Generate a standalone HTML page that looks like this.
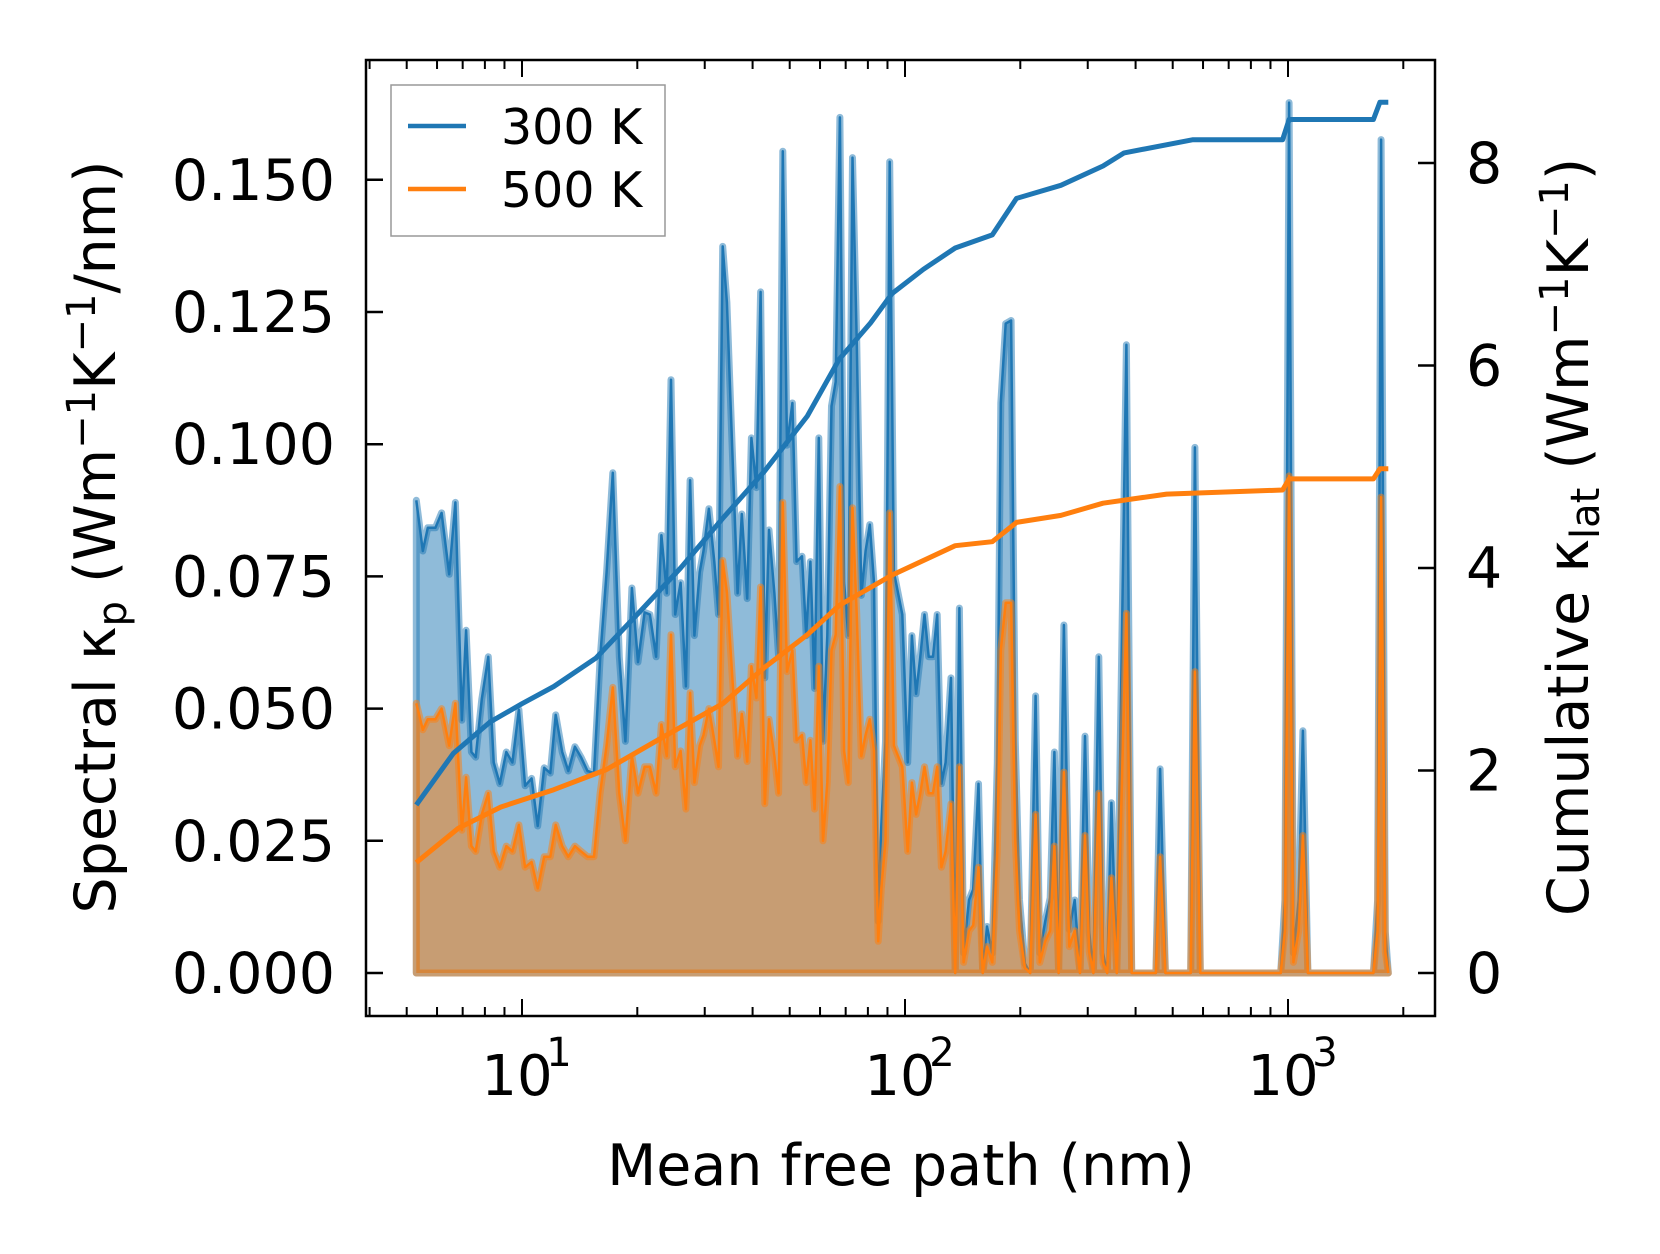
<!DOCTYPE html>
<html><head><meta charset="utf-8"><style>
html,body{margin:0;padding:0;background:#fff}
svg{display:block;font-family:"DejaVu Sans","Liberation Sans",sans-serif}
</style></head><body>
<svg id="chart" width="1660" height="1254" viewBox="0 0 1660 1254" xmlns="http://www.w3.org/2000/svg">
<rect width="1660" height="1254" fill="#fff"/>
<defs><clipPath id="plotclip"><rect x="366" y="60" width="1069" height="956"/></clipPath></defs>
<g id="series" clip-path="url(#plotclip)"></g>
<g id="axes"></g>
<text x="901" y="1185" font-size="57" text-anchor="middle">Mean free path (nm)</text>
<text transform="translate(115,537) rotate(-90)" font-size="57" text-anchor="middle">Spectral κ<tspan font-size="40" dy="11">p</tspan><tspan dy="-11"> (Wm</tspan><tspan font-size="40" dy="-20">−1</tspan><tspan dy="20">K</tspan><tspan font-size="40" dy="-20">−1</tspan><tspan dy="20">/nm)</tspan></text>
<text transform="translate(1588,537) rotate(-90)" font-size="57" text-anchor="middle">Cumulative κ<tspan font-size="40" dy="11">lat</tspan><tspan dy="-11"> (Wm</tspan><tspan font-size="40" dy="-20">−1</tspan><tspan dy="20">K</tspan><tspan font-size="40" dy="-20">−1</tspan><tspan dy="20">)</tspan></text>
<g>
<rect x="391" y="85" width="274" height="151" fill="#fff" fill-opacity="0.8" stroke="#999" stroke-width="1.5"/>
<g><line x1="408" y1="126" x2="466" y2="126" stroke="#1f77b4" stroke-width="4.5"/><text x="501" y="144" font-size="49">300 K</text></g>
<g><line x1="408" y1="189" x2="466" y2="189" stroke="#ff7f0e" stroke-width="4.5"/><text x="501" y="207" font-size="49">500 K</text></g>
</g>
</svg>
<script>
const logMfp=[0.724,0.741,0.754,0.774,0.790,0.810,0.826,0.843,0.854,0.868,0.879,0.895,0.912,0.926,0.942,0.959,0.975,0.992,1.008,1.025,1.041,1.058,1.074,1.088,1.105,1.121,1.138,1.154,1.171,1.188,1.204,1.221,1.237,1.254,1.270,1.287,1.303,1.320,1.334,1.350,1.364,1.378,1.389,1.400,1.414,1.428,1.439,1.450,1.464,1.474,1.488,1.502,1.513,1.524,1.535,1.549,1.563,1.574,1.588,1.599,1.612,1.623,1.634,1.645,1.659,1.670,1.681,1.692,1.706,1.717,1.731,1.742,1.753,1.764,1.775,1.786,1.797,1.808,1.819,1.830,1.841,1.852,1.863,1.874,1.886,1.897,1.908,1.919,1.930,1.938,1.949,1.960,1.971,1.982,1.993,2.007,2.018,2.029,2.040,2.051,2.062,2.073,2.084,2.095,2.106,2.120,2.131,2.142,2.153,2.167,2.178,2.192,2.203,2.214,2.228,2.241,2.250,2.263,2.277,2.288,2.299,2.313,2.327,2.341,2.352,2.366,2.379,2.390,2.401,2.415,2.429,2.443,2.457,2.470,2.481,2.492,2.506,2.517,2.528,2.539,2.553,2.578,2.592,2.655,2.666,2.680,2.746,2.757,2.771,2.981,2.992,3.003,3.014,3.028,3.039,3.052,3.223,3.234,3.243,3.254,3.262];
const spec300=[.0894,.0798,.0842,.0842,.0870,.0754,.0890,.0478,.0648,.0418,.0408,.0518,.0598,.0398,.0358,.0418,.0398,.0498,.0354,.0368,.0278,.0388,.0378,.0488,.0418,.0382,.0428,.0408,.0382,.0378,.0594,.0758,.0946,.0598,.0438,.0728,.0588,.0682,.0678,.0598,.0828,.0718,.1122,.0678,.0738,.0542,.0932,.0638,.0758,.0798,.0878,.0778,.0678,.1374,.1268,.0988,.0718,.0868,.0708,.1012,.0918,.1288,.0558,.0838,.0718,.0598,.1554,.0998,.1078,.0778,.0788,.0638,.0778,.0538,.1012,.0438,.0638,.1072,.1118,.1618,.0738,.0638,.1542,.1198,.0714,.0798,.0848,.0738,.0098,.0278,.0438,.1534,.0758,.0718,.0678,.0398,.0638,.0528,.0598,.0678,.0598,.0598,.0678,.0358,.0398,.0558,0,.0690,.0038,.0138,.0158,.0358,0,.0088,.0038,.0398,.1078,.1228,.1234,.0438,.0138,.0018,0,.0524,.0038,.0098,.0142,.0418,0,.0658,.0082,.0138,0,.0448,.0078,0,.0598,.0038,0,.0322,0,.1188,0,0,.0386,0,0,.0994,0,0,.0138,.1646,.0038,.0138,.0458,0,0,.0138,.1576,.0078,0];
const spec500=[.051,.046,.048,.048,.050,.043,.051,.027,.037,.024,.023,.030,.034,.023,.020,.024,.023,.028,.020,.021,.016,.022,.022,.028,.024,.022,.024,.023,.022,.022,.034,.043,.054,.034,.025,.041,.034,.039,.039,.034,.047,.041,.064,.039,.042,.031,.053,.036,.043,.045,.050,.044,.039,.078,.072,.056,.041,.049,.040,.058,.052,.073,.032,.048,.041,.034,.089,.057,.061,.044,.045,.036,.044,.031,.058,.025,.036,.061,.064,.092,.042,.036,.088,.068,.041,.045,.048,.042,.006,.016,.025,.087,.043,.041,.039,.023,.036,.030,.034,.039,.034,.034,.039,.020,.023,.032,0,.039,.002,.008,.009,.020,0,.005,.002,.023,.061,.070,.070,.025,.008,.001,0,.030,.002,.006,.008,.024,0,.038,.005,.008,0,.026,.004,0,.034,.002,0,.018,0,.068,0,0,.022,0,0,.057,0,0,.008,.094,.002,.008,.026,0,0,.008,.090,.004,0];
const cumLog300=[0.724,0.821,0.917,1.0,1.083,1.193,1.303,1.414,1.524,1.634,1.745,1.828,1.910,1.966,2.048,2.131,2.228,2.291,2.407,2.517,2.572,2.752,2.986,3.003,3.223,3.240,3.262];
const cum300=[1.66,2.17,2.48,2.66,2.83,3.11,3.55,4.00,4.49,4.96,5.50,6.06,6.42,6.71,6.95,7.16,7.29,7.65,7.78,7.97,8.10,8.23,8.23,8.43,8.43,8.60,8.60];
const cumLog500=[0.724,0.834,0.945,1.083,1.221,1.359,1.524,1.634,1.745,1.828,1.966,2.131,2.228,2.291,2.407,2.517,2.683,2.986,3.003,3.223,3.240,3.262];
const cum500=[1.09,1.43,1.64,1.81,2.01,2.31,2.66,3.02,3.34,3.63,3.93,4.22,4.26,4.45,4.52,4.64,4.73,4.77,4.88,4.88,4.98,4.98];
const leftTicks=[0,0.025,0.05,0.075,0.1,0.125,0.15];
const leftTickLabels=["0.000","0.025","0.050","0.075","0.100","0.125","0.150"];
const rightTicks=[0,2,4,6,8];
const xDecades=[1,2,3];

const NS="http://www.w3.org/2000/svg";
const X0=366,X1=1435,Y0=60,Y1=1016;
function xs(l){return 522+383*(l-1);}
function yl(v){return 973-v/0.025*132.2;}
function yr(v){return 973-v*101.25;}
function mk(tag,attrs,parent){const e=document.createElementNS(NS,tag);for(const k in attrs)e.setAttribute(k,attrs[k]);parent.appendChild(e);return e;}
const S=document.getElementById('series'),A=document.getElementById('axes');

function drawSpec(vals,color,name){
  let d='M'+xs(logMfp[0])+','+yl(0);
  logMfp.forEach((l,i)=>{d+=' L'+xs(l).toFixed(1)+','+yl(vals[i]).toFixed(1);});
  d+=' L'+xs(logMfp[logMfp.length-1])+','+yl(0)+' Z';
  const f=mk('path',{d:d,fill:color,'fill-opacity':0.5,stroke:color,'stroke-opacity':0.5,'stroke-width':7,'stroke-linejoin':'round'},S);
  
  
  let d2='';
  logMfp.forEach((l,i)=>{d2+=(i?' L':'M')+xs(l).toFixed(1)+','+yl(vals[i]).toFixed(1);});
  const p=mk('path',{d:d2,fill:'none',stroke:color,'stroke-width':2.5,'stroke-linejoin':'round'},S);
  
  
}
drawSpec(spec300,'#1f77b4','spectral-300k');
drawSpec(spec500,'#ff7f0e','spectral-500k');

function drawCum(ls,vals,color,name){
  let d='';
  ls.forEach((l,i)=>{d+=(i?' L':'M')+xs(l).toFixed(1)+','+yr(vals[i]).toFixed(1);});
  const p=mk('path',{d:d,fill:'none',stroke:color,'stroke-width':5,'stroke-linejoin':'round'},S);
  
  
}
drawCum(cumLog300,cum300,'#1f77b4','cumulative-300k');
drawCum(cumLog500,cum500,'#ff7f0e','cumulative-500k');

const fr=mk('rect',{x:X0,y:Y0,width:X1-X0,height:Y1-Y0,fill:'none',stroke:'#000','stroke-width':2.5},A);



leftTicks.forEach((v,i)=>{
  const y=yl(v);
  mk('line',{x1:X0,y1:y,x2:X0+17,y2:y,stroke:'#000','stroke-width':2.5},A);
  const t=mk('text',{x:335,y:y+20,'font-size':57,'text-anchor':'end'},A);
  t.textContent=leftTickLabels[i];
  
  
});
rightTicks.forEach(v=>{
  const y=yr(v);
  mk('line',{x1:X1-17,y1:y,x2:X1,y2:y,stroke:'#000','stroke-width':2.5},A);
  const t=mk('text',{x:1466,y:y+20,'font-size':57},A);
  t.textContent=String(v);
  
  
});
for(let dec=0;dec<=3;dec++){
  for(let m=1;m<=9;m++){
    const l=dec+Math.log10(m);
    const x=xs(l);
    if(x<X0+1||x>X1-1)continue;
    const len=m===1?17:9;
    mk('line',{x1:x,y1:Y1,x2:x,y2:Y1-len,stroke:'#000','stroke-width':2},A);
    mk('line',{x1:x,y1:Y0,x2:x,y2:Y0+len,stroke:'#000','stroke-width':2},A);
  }
}
xDecades.forEach(p=>{
  const x=xs(p);
  const t=mk('text',{x:x-5,y:1095,'font-size':56,'text-anchor':'middle'},A);
  t.textContent='10';
  
  
  const s=mk('text',{x:x+37,y:1066,'font-size':40,'text-anchor':'middle'},A);
  s.textContent=String(p);
});
</script>
</body></html>
